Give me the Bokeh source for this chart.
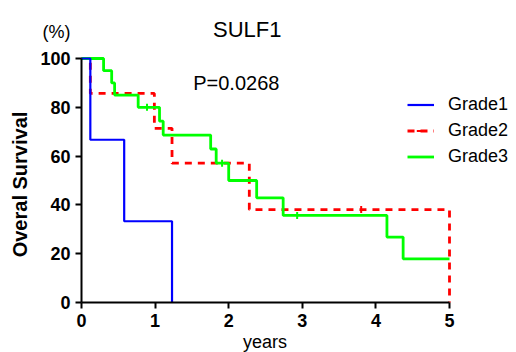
import math
from bokeh.plotting import figure
from bokeh.models import Label, Legend, LegendItem, FixedTicker, Range1d
from bokeh.embed import file_html
from bokeh.resources import INLINE

# ---- data ----
title_text = "SULF1"
p_text = "P=0.0268"
x_label = "years"
y_label = "Overal Survival"
unit_label = "(%)"

x_ticks = [0, 1, 2, 3, 4, 5]
y_ticks = [0, 20, 40, 60, 80, 100]

g1_name = "Grade1"
g1_t = [0, 0.12, 0.58, 1.23]
g1_s = [100, 66.7, 33.3, 0]
g1_ct = []
g1_cs = []

g2_name = "Grade2"
g2_t = [0, 0.12, 0.99, 1.23, 2.28, 5.0]
g2_s = [100, 85.7, 71.4, 57.1, 38.1, 0]
g2_ct = [3.80]
g2_cs = [38.1]

g3_name = "Grade3"
g3_t = [0, 0.30, 0.41, 0.45, 0.77, 1.06, 1.11, 1.755, 1.83, 2.0, 2.38, 2.74, 4.15, 4.37, 5.0]
g3_s = [100, 95, 90, 85, 80, 74.3, 68.6, 62.9, 57.1, 50.0, 42.9, 35.7, 26.8, 17.9, 17.9]
g3_ct = [0.89, 1.91, 2.93]
g3_cs = [80, 57.1, 35.7]

FONT = "Liberation Sans"

# ---- layout (pixels) ----
W, H = 516, 352
X0_PX, X5_PX = 81, 449      # x=0 and x=5
Y0_PX, Y100_PX = 302, 58    # y=0 and y=100
xs = (X5_PX - X0_PX) / 5.0
ys = (Y0_PX - Y100_PX) / 100.0

p = figure(width=W, height=H, output_backend="svg", toolbar_location=None,
           x_range=Range1d(-X0_PX / xs, (W - X0_PX) / xs),
           y_range=Range1d(-(H - Y0_PX) / ys, Y0_PX / ys),
           min_border=0, min_border_left=0, min_border_right=0,
           min_border_top=0, min_border_bottom=0)
p.outline_line_color = None
p.xgrid.visible = False
p.ygrid.visible = False
p.background_fill_color = "white"
p.border_fill_color = "white"

for ax, ticks, bnds in ((p.xaxis[0], x_ticks, (0, 5)), (p.yaxis[0], y_ticks, (0, 100))):
    ax.fixed_location = 0
    ax.ticker = FixedTicker(ticks=ticks)
    ax.bounds = bnds
    ax.axis_line_width = 2
    ax.axis_line_color = "black"
    ax.major_tick_line_width = 2
    ax.major_tick_line_color = "black"
    ax.major_tick_out = 6
    ax.major_tick_in = 0
    ax.minor_tick_out = 0
    ax.minor_tick_in = 0
    ax.major_label_text_font = FONT
    ax.major_label_text_font_style = "bold"
    ax.major_label_text_font_size = "18px"
    ax.major_label_text_color = "black"
    ax.major_label_standoff = 5

# curves
r2 = p.step(g2_t, g2_s, mode="after", line_color="#FF0000", line_width=2.8, line_dash="7 6")
c2 = p.scatter(g2_ct, g2_cs, marker="dash", angle=math.pi / 2, size=7, line_color="#FF0000", line_width=2)
r3 = p.step(g3_t, g3_s, mode="after", line_color="#00FF00", line_width=2.8)
c3 = p.scatter(g3_ct, g3_cs, marker="dash", angle=math.pi / 2, size=7, line_color="#00FF00", line_width=2)
r1 = p.step(g1_t, g1_s, mode="after", line_color="#0000FF", line_width=2.2)
c1 = p.scatter(g1_ct, g1_cs, marker="dash", angle=math.pi / 2, size=7, line_color="#0000FF", line_width=2)

legend = Legend(items=[LegendItem(label=g1_name, renderers=[r1, c1]),
                       LegendItem(label=g2_name, renderers=[r2, c2]),
                       LegendItem(label=g3_name, renderers=[r3, c3])],
                location=(407, 185))
legend.label_text_font = FONT
legend.label_text_font_size = "18px"
legend.label_text_color = "black"
legend.glyph_width = 27
legend.glyph_height = 21
legend.label_height = 21
legend.spacing = 5
legend.padding = 0
legend.margin = 0
legend.label_standoff = 14
legend.border_line_color = None
legend.background_fill_alpha = 0
p.add_layout(legend)

def lab(text, x, y, size, align="left", angle=0, style="normal", baseline="alphabetic"):
    # x, y: pixels from the canvas' left / bottom (frame covers the canvas)
    p.add_layout(Label(x=x, y=y, x_units="screen", y_units="screen", text=text,
                       text_font=FONT, text_font_size=size, text_font_style=style,
                       text_align=align, text_baseline=baseline, angle=angle,
                       text_color="black"))

lab(title_text, 246.7, H - 29.3, "22px", align="center")
lab(unit_label, 56, H - 31.7, "18px", align="center")
lab(p_text, 192.7, H - 82.3, "20px")
lab(x_label, 264.5, H - 341, "18px", align="center")
lab(y_label, 19, H - 184, "20px", align="center", angle=math.pi / 2, style="bold", baseline="middle")

open("out.html", "w").write(file_html(p, INLINE))
